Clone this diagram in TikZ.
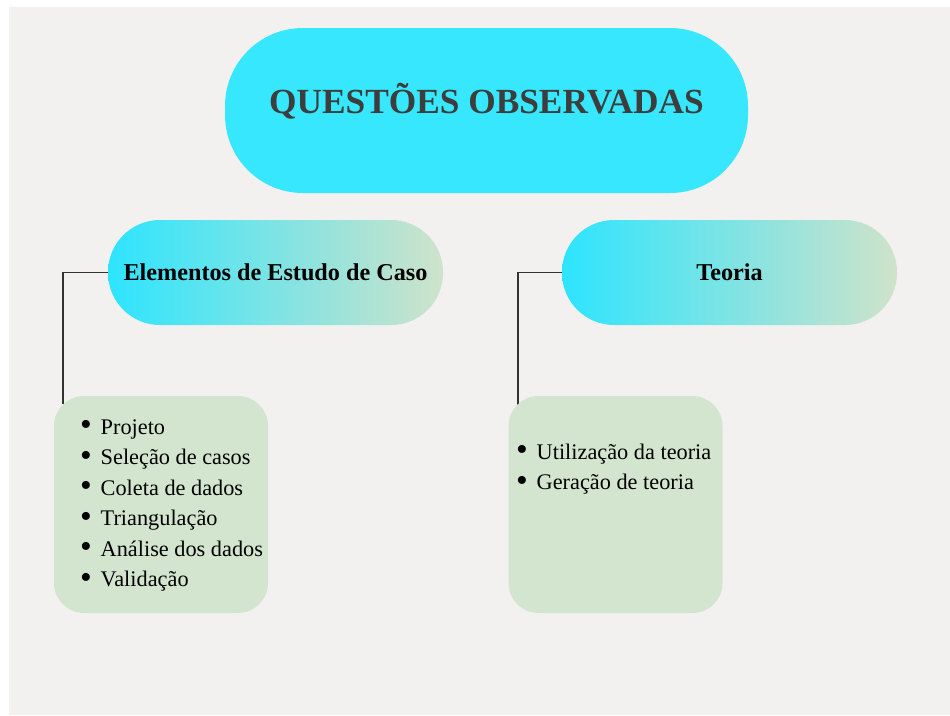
\documentclass[tikz,border=0pt]{standalone}
\usepackage{fontspec}
\usepackage{graphicx}
\setmainfont{Liberation Serif}
\usetikzlibrary{positioning}

\definecolor{bgGray}{HTML}{F2F1EF}
\definecolor{titleCyan}{HTML}{36E7FE}
\definecolor{pillLeft}{HTML}{2DE4FE}
\definecolor{pillRight}{HTML}{CFE3CA}
\definecolor{boxGreen}{HTML}{D3E5CE}
\definecolor{titleText}{HTML}{3D3D3D}

\tikzset{
	titlepill/.style={rectangle, rounded corners=78pt, fill=titleCyan, minimum width=523pt, minimum height=165pt, inner sep=0pt},
	pill/.style={rectangle, rounded corners=52pt, left color=pillLeft, right color=pillRight, minimum width=335pt, minimum height=105pt, inner sep=0pt, font=\fontsize{24.2}{28}\selectfont\bfseries},
	listbox/.style={rectangle, rounded corners=30pt, fill=boxGreen, minimum width=214pt, minimum height=217pt, inner sep=0pt},
	items/.style={align=left, inner sep=0pt, font=\fontsize{22.3}{30.45}\selectfont},
	link/.style={draw=black!80, line width=1.1pt}
}
\newcommand{\itm}{\makebox[20.5pt][l]{\raisebox{-1.5pt}{\scalebox{1.5}{\textbullet}}}}

\begin{document}
\begin{tikzpicture}[x=1pt, y=-1pt]
	\fill[white] (0,0) rectangle (950,715);
	\fill[bgGray] (9,7) rectangle (950,715);

	\node[titlepill] (qo) at (486.5,110.5) {};
	\node[anchor=base, text=titleText, font=\fontsize{35.3}{40}\selectfont\bfseries] (qotext) at (486.5,113) {QUESTÕES OBSERVADAS};

	\node[pill] (elem) at (275.5,272.5) {Elementos de Estudo de Caso};
	\node[pill] (teo) at (729.5,272.5) {Teoria};

	% connectors first, boxes cover their ends
	\coordinate (lelemtop) at (63,404);
	\coordinate (lteotop) at (518,405);
	\draw[link] (elem.west) -| (lelemtop);
	\draw[link] (teo.west) -| (lteotop);

	\node[listbox] (lelem) at (161,504.5) {};
	\node[listbox] (lteo) at (615.5,504.5) {};

	\node[items, anchor=west] (elemitems) at (80,505.5) {\itm Projeto\\ \itm Seleção de casos\\ \itm Coleta de dados\\ \itm Triangulação\\ \itm Análise dos dados\\ \itm Validação};
	\node[items, anchor=north west] (teoitems) at (516,443.5) {\itm Utilização da teoria\\ \itm Geração de teoria};
\end{tikzpicture}
\end{document}
